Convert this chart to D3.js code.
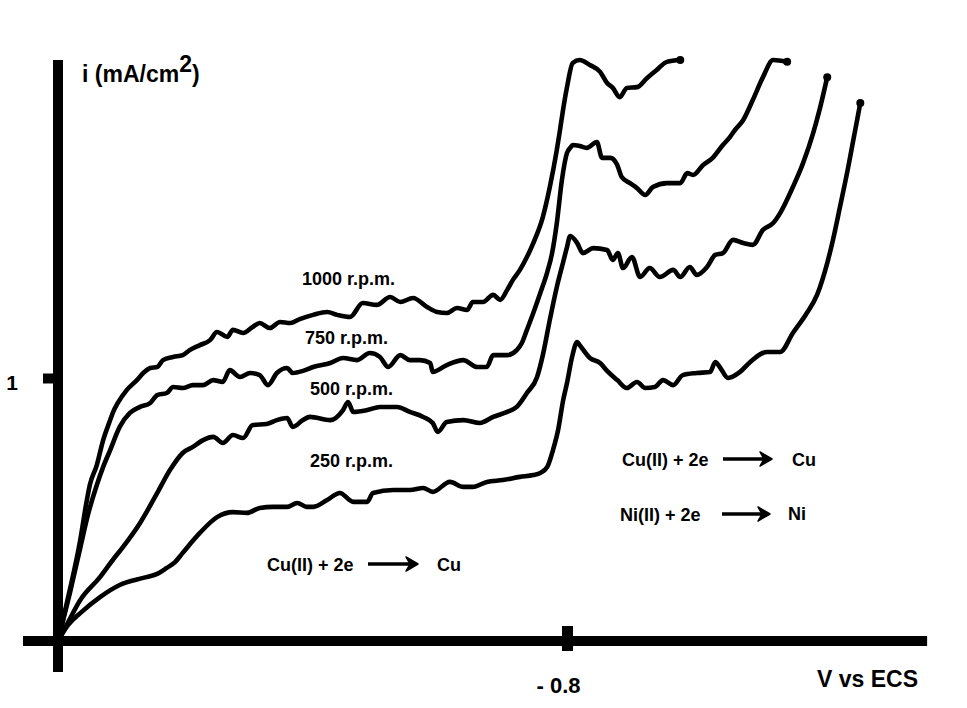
<!DOCTYPE html>
<html>
<head>
<meta charset="utf-8">
<script src="https://cdn.jsdelivr.net/npm/d3@7"></script>
<style>
  body { margin: 0; background: #fff; }
  text { font-family: "Liberation Sans", Arial, sans-serif; font-weight: bold; fill: #000; }
</style>
</head>
<body>
<svg id="chart"></svg>
<script>
// Courbes i = f(V) pour 4 vitesses de rotation (V vs ECS, i en mA/cm2)
const curve1000 = [[0,0],[-0.016,0.167],[-0.035,0.384],[-0.044,0.517],[-0.050,0.593],[-0.061,0.669],[-0.071,0.764],[-0.082,0.840],[-0.086,0.867],[-0.094,0.905],[-0.108,0.954],[-0.124,0.992],[-0.134,1.019],[-0.145,1.038],[-0.156,1.042],[-0.165,1.068],[-0.181,1.080],[-0.196,1.087],[-0.207,1.106],[-0.223,1.125],[-0.239,1.144],[-0.250,1.175],[-0.266,1.156],[-0.275,1.183],[-0.291,1.171],[-0.306,1.194],[-0.317,1.209],[-0.333,1.190],[-0.349,1.213],[-0.365,1.209],[-0.380,1.224],[-0.401,1.240],[-0.423,1.251],[-0.439,1.240],[-0.459,1.232],[-0.479,1.285],[-0.501,1.278],[-0.522,1.308],[-0.538,1.289],[-0.558,1.304],[-0.580,1.270],[-0.596,1.251],[-0.611,1.247],[-0.627,1.266],[-0.643,1.259],[-0.652,1.289],[-0.668,1.289],[-0.684,1.316],[-0.695,1.297],[-0.706,1.335],[-0.715,1.373],[-0.726,1.411],[-0.737,1.460],[-0.747,1.513],[-0.762,1.612],[-0.773,1.726],[-0.784,1.867],[-0.789,1.943],[-0.795,2.038],[-0.800,2.106],[-0.809,2.198],[-0.820,2.209],[-0.836,2.190],[-0.852,2.164],[-0.863,2.122],[-0.872,2.103],[-0.883,2.068],[-0.894,2.103],[-0.910,2.106],[-0.926,2.141],[-0.941,2.171],[-0.957,2.202],[-0.978,2.209]];
const curve750 = [[0,0],[-0.019,0.186],[-0.035,0.354],[-0.047,0.479],[-0.061,0.593],[-0.071,0.662],[-0.082,0.726],[-0.097,0.814],[-0.113,0.867],[-0.129,0.890],[-0.145,0.905],[-0.156,0.935],[-0.171,0.943],[-0.181,0.966],[-0.196,0.962],[-0.212,0.973],[-0.228,0.973],[-0.244,0.992],[-0.259,0.985],[-0.270,1.030],[-0.286,1.004],[-0.302,1.019],[-0.317,1.011],[-0.330,0.973],[-0.344,1.019],[-0.360,1.038],[-0.369,1.019],[-0.385,1.027],[-0.401,1.042],[-0.428,1.057],[-0.448,1.076],[-0.470,1.068],[-0.490,1.095],[-0.506,1.080],[-0.519,1.042],[-0.538,1.087],[-0.553,1.068],[-0.569,1.068],[-0.585,1.057],[-0.589,1.023],[-0.611,1.049],[-0.637,1.068],[-0.659,1.042],[-0.674,1.042],[-0.684,1.087],[-0.706,1.087],[-0.721,1.106],[-0.729,1.133],[-0.737,1.183],[-0.747,1.247],[-0.758,1.323],[-0.769,1.403],[-0.776,1.468],[-0.784,1.589],[-0.792,1.753],[-0.800,1.856],[-0.805,1.875],[-0.809,1.886],[-0.820,1.882],[-0.831,1.875],[-0.847,1.897],[-0.855,1.837],[-0.868,1.837],[-0.879,1.810],[-0.886,1.764],[-0.899,1.741],[-0.910,1.722],[-0.923,1.696],[-0.935,1.726],[-0.957,1.741],[-0.978,1.741],[-0.989,1.779],[-0.998,1.772],[-1.014,1.810],[-1.029,1.837],[-1.045,1.886],[-1.056,1.916],[-1.064,1.943],[-1.077,1.981],[-1.092,2.057],[-1.108,2.144],[-1.124,2.209],[-1.146,2.202]];
const curve500 = [[0,0],[-0.016,0.072],[-0.035,0.156],[-0.066,0.243],[-0.086,0.308],[-0.102,0.357],[-0.129,0.449],[-0.156,0.563],[-0.176,0.650],[-0.196,0.715],[-0.212,0.738],[-0.228,0.764],[-0.244,0.776],[-0.259,0.753],[-0.275,0.783],[-0.291,0.772],[-0.306,0.821],[-0.328,0.825],[-0.344,0.840],[-0.360,0.848],[-0.369,0.814],[-0.385,0.840],[-0.396,0.852],[-0.428,0.840],[-0.448,0.878],[-0.456,0.909],[-0.464,0.871],[-0.486,0.878],[-0.506,0.890],[-0.533,0.890],[-0.553,0.871],[-0.574,0.852],[-0.589,0.829],[-0.597,0.795],[-0.611,0.833],[-0.637,0.840],[-0.663,0.829],[-0.684,0.852],[-0.706,0.871],[-0.721,0.890],[-0.737,0.943],[-0.753,1.004],[-0.762,1.087],[-0.773,1.221],[-0.784,1.346],[-0.794,1.441],[-0.800,1.498],[-0.805,1.540],[-0.816,1.513],[-0.825,1.475],[-0.841,1.494],[-0.863,1.487],[-0.872,1.449],[-0.880,1.475],[-0.888,1.418],[-0.902,1.460],[-0.915,1.384],[-0.930,1.418],[-0.946,1.384],[-0.967,1.411],[-0.978,1.384],[-0.993,1.422],[-1.004,1.392],[-1.020,1.422],[-1.033,1.468],[-1.045,1.475],[-1.061,1.525],[-1.077,1.513],[-1.092,1.506],[-1.108,1.563],[-1.124,1.589],[-1.135,1.627],[-1.155,1.726],[-1.171,1.817],[-1.187,1.932],[-1.198,2.030],[-1.209,2.144]];
const curve250 = [[0,0],[-0.016,0.061],[-0.035,0.106],[-0.066,0.167],[-0.097,0.213],[-0.134,0.240],[-0.156,0.255],[-0.171,0.278],[-0.184,0.300],[-0.196,0.335],[-0.223,0.411],[-0.250,0.471],[-0.275,0.490],[-0.297,0.487],[-0.317,0.506],[-0.338,0.510],[-0.360,0.510],[-0.376,0.525],[-0.391,0.510],[-0.401,0.510],[-0.423,0.536],[-0.443,0.563],[-0.464,0.529],[-0.486,0.529],[-0.495,0.563],[-0.527,0.574],[-0.553,0.574],[-0.574,0.582],[-0.589,0.567],[-0.616,0.605],[-0.637,0.586],[-0.652,0.586],[-0.674,0.605],[-0.699,0.612],[-0.726,0.624],[-0.747,0.631],[-0.758,0.639],[-0.769,0.662],[-0.778,0.726],[-0.786,0.802],[-0.794,0.916],[-0.800,0.981],[-0.808,1.080],[-0.816,1.137],[-0.820,1.125],[-0.836,1.076],[-0.852,1.057],[-0.863,1.027],[-0.879,0.992],[-0.894,0.962],[-0.910,0.985],[-0.923,0.962],[-0.938,0.966],[-0.951,0.992],[-0.967,0.973],[-0.982,1.011],[-1.004,1.019],[-1.025,1.023],[-1.033,1.061],[-1.040,1.042],[-1.053,1.000],[-1.072,1.023],[-1.088,1.061],[-1.114,1.099],[-1.135,1.099],[-1.155,1.171],[-1.177,1.247],[-1.193,1.316],[-1.209,1.437],[-1.218,1.525],[-1.229,1.650],[-1.242,1.802],[-1.250,1.905],[-1.256,1.981],[-1.261,2.046]];

const curves = [curve1000, curve750, curve500, curve250];
const rpmLabels = ["1000 r.p.m.", "750 r.p.m.", "500 r.p.m.", "250 r.p.m."];
const xTicks = [-0.8];
const xTickLabels = ["- 0.8"];
const yTicks = [1];
const yTickLabels = ["1"];
const xAxisExtent = [0.055, -1.366];
const yAxisExtent = [-0.118, 2.209];

const width = 967;
const height = 708;

const svg = d3.select("#chart")
  .attr("width", width)
  .attr("height", height);

const x = d3.scaleLinear().domain([0, -0.8]).range([58, 567]);
const y = d3.scaleLinear().domain([0, 1]).range([641, 378]);

// Axes (traits épais)
svg.append("line")
  .attr("x1", x(xAxisExtent[0])).attr("x2", x(xAxisExtent[1]))
  .attr("y1", y(0)).attr("y2", y(0))
  .attr("stroke", "black").attr("stroke-width", 10);

svg.append("line")
  .attr("x1", x(0)).attr("x2", x(0))
  .attr("y1", y(yAxisExtent[0])).attr("y2", y(yAxisExtent[1]))
  .attr("stroke", "black").attr("stroke-width", 10);

const gx = svg.append("g")
  .attr("transform", `translate(0,${y(0)})`)
  .call(d3.axisBottom(x).tickValues(xTicks).tickSize(10)
    .tickFormat((d, i) => xTickLabels[i]));
gx.attr("font-family", null).attr("font-size", null);
gx.select(".domain").remove();
gx.selectAll(".tick line").attr("y1", -15).attr("stroke-width", 11);
gx.selectAll(".tick text")
  .attr("y", 52).attr("dy", 0).attr("dx", -9)
  .style("font-size", "22px");

const gy = svg.append("g")
  .attr("transform", `translate(${x(0)},0)`)
  .call(d3.axisLeft(y).tickValues(yTicks).tickSize(15).tickPadding(25)
    .tickFormat((d, i) => yTickLabels[i]));
gy.attr("font-family", null).attr("font-size", null);
gy.select(".domain").remove();
gy.selectAll(".tick line").attr("stroke-width", 10);
gy.selectAll(".tick text")
  .attr("dy", "0.55em")
  .style("font-size", "21px");

// Titres des axes
const yTitle = svg.append("text")
  .attr("x", 82).attr("y", 82)
  .style("font-size", "23px");
yTitle.append("tspan").text("i (mA/cm");
yTitle.append("tspan").attr("dy", -10).text("2");
yTitle.append("tspan").attr("dy", 10).text(")");

svg.append("text")
  .attr("x", 918).attr("y", 687)
  .attr("text-anchor", "end")
  .style("font-size", "23px")
  .text("V vs ECS");

// Courbes
const line = d3.line()
  .x(d => x(d[0]))
  .y(d => y(d[1]))
  .curve(d3.curveMonotoneX);

svg.selectAll("path.courbe")
  .data(curves)
  .join("path")
  .attr("class", "courbe")
  .attr("d", line)
  .attr("fill", "none")
  .attr("stroke", "black")
  .attr("stroke-width", 4.6)
  .attr("stroke-linejoin", "round")
  .attr("stroke-linecap", "round");

svg.selectAll("circle.fin")
  .data(curves)
  .join("circle")
  .attr("class", "fin")
  .attr("cx", d => x(d[d.length - 1][0]))
  .attr("cy", d => y(d[d.length - 1][1]))
  .attr("r", 4)
  .attr("fill", "black");

// Étiquettes des vitesses
const rpmPos = [[302, 285], [305, 344], [310, 395], [310, 467]];
svg.selectAll("text.rpm")
  .data(rpmLabels)
  .join("text")
  .attr("class", "rpm")
  .attr("x", (d, i) => rpmPos[i][0])
  .attr("y", (d, i) => rpmPos[i][1])
  .style("font-size", "18px")
  .text(d => d);

// Réactions
const reactions = [
  { left: "Cu(II) + 2e", right: "Cu", x: 267, y: 571, ax1: 368, ax2: 418, ay: 564, rx: 437 },
  { left: "Cu(II) + 2e", right: "Cu", x: 622, y: 466, ax1: 723, ax2: 772, ay: 459, rx: 792 },
  { left: "Ni(II) + 2e", right: "Ni", x: 620, y: 521, ax1: 722, ax2: 770, ay: 514, rx: 788 }
];

reactions.forEach(r => {
  svg.append("text").attr("x", r.x).attr("y", r.y).style("font-size", "18px").text(r.left);
  svg.append("text").attr("x", r.rx).attr("y", r.right === "Ni" ? r.y - 1 : r.y).style("font-size", "18px").text(r.right);
  svg.append("line")
    .attr("x1", r.ax1).attr("x2", r.ax2 - 6)
    .attr("y1", r.ay).attr("y2", r.ay)
    .attr("stroke", "black").attr("stroke-width", 3.5);
  svg.append("path")
    .attr("d", `M${r.ax2},${r.ay} L${r.ax2 - 12},${r.ay - 7} L${r.ax2 - 8},${r.ay} L${r.ax2 - 12},${r.ay + 7} Z`)
    .attr("fill", "black")
    .attr("stroke", "black")
    .attr("stroke-width", 1.5)
    .attr("stroke-linejoin", "round");
});
</script>
</body>
</html>
